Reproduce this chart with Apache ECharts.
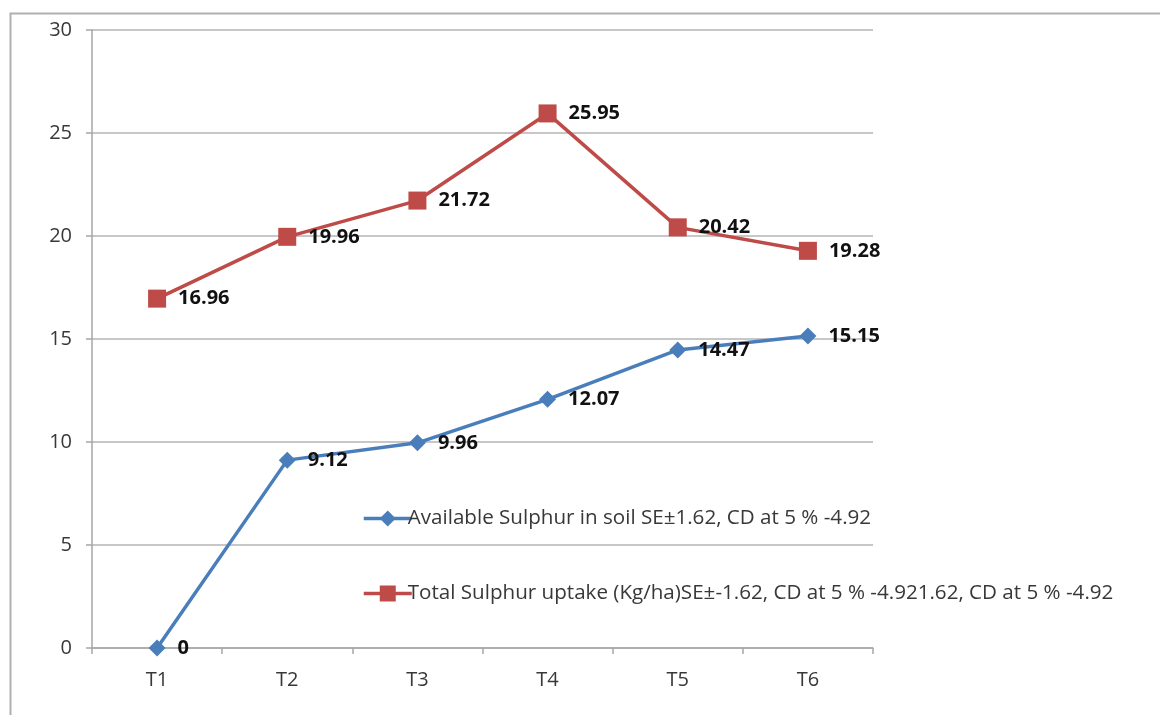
<!DOCTYPE html>
<html>
<head>
<meta charset="utf-8">
<script src="https://cdn.jsdelivr.net/npm/echarts@6/dist/echarts.min.js"></script>
<style>
  html, body { margin: 0; padding: 0; background: #fff; }
  #chart { width: 1160px; height: 715px; }
</style>
</head>
<body>
<div id="chart"></div>
<script>
// Treatments on the category axis
const treatments = ['T1', 'T2', 'T3', 'T4', 'T5', 'T6'];

// Available sulphur in soil
const availableSulphur = [0, 9.12, 9.96, 12.07, 14.47, 15.15];

// Total sulphur uptake (Kg/ha)
const totalUptake = [16.96, 19.96, 21.72, 25.95, 20.42, 19.28];

const seriesNames = [
  'Available Sulphur in soil SE\u00b11.62, CD at 5 % -4.92',
  'Total Sulphur uptake (Kg/ha)SE\u00b1-1.62, CD at 5 % -4.921.62, CD at 5 % -4.92'
];

const FONT = '"Open Sans", "Liberation Sans", sans-serif';

const chart = echarts.init(document.getElementById('chart'), null, { renderer: 'canvas' });

const labelStyle = {
  show: true,
  position: 'right',
  distance: 12,
  color: '#111',
  fontWeight: 'bold',
  fontSize: 20,
  fontFamily: FONT
};

chart.setOption({
  animation: false,
  backgroundColor: '#ffffff',
  graphic: [{
    type: 'rect',
    shape: { x: 10.5, y: 13.5, width: 1200, height: 800 },
    style: { fill: 'none', stroke: '#b0b0b0', lineWidth: 2 },
    silent: true,
    z: 0
  }],
  grid: { left: 92, right: 287, top: 30, bottom: 67, containLabel: false },
  xAxis: {
    type: 'category',
    data: treatments,
    boundaryGap: true,
    axisLine: { show: true, lineStyle: { color: '#a6a6a6', width: 1.5 } },
    axisTick: { show: true, length: 6, inside: false, lineStyle: { color: '#a6a6a6', width: 1.5 } },
    axisLabel: { color: '#383838', fontSize: 20, fontFamily: FONT, margin: 22 },
    splitLine: { show: false }
  },
  yAxis: {
    type: 'value',
    min: 0,
    max: 30,
    interval: 5,
    axisLine: { show: true, lineStyle: { color: '#a6a6a6', width: 1.5 } },
    axisTick: { show: true, length: 6, lineStyle: { color: '#a6a6a6', width: 1.5 } },
    axisLabel: { color: '#383838', fontSize: 20, fontFamily: FONT, margin: 20 },
    splitLine: { show: true, lineStyle: { color: '#b4b4b4', width: 1.5 } }
  },
  legend: {
    orient: 'vertical',
    left: 357,
    top: 503,
    itemWidth: 48,
    itemHeight: 20,
    itemGap: 54,
    lineStyle: { width: 3.5 },
    textStyle: { color: '#383838', fontSize: 20.6, fontFamily: FONT, padding: [0, 0, 0, -9] },
    data: seriesNames
  },
  series: [
    {
      name: seriesNames[0],
      type: 'line',
      data: availableSulphur,
      symbol: 'diamond',
      symbolSize: 17,
      color: '#4a7ebb',
      lineStyle: { color: '#4a7ebb', width: 3.5 },
      itemStyle: { color: '#4a7ebb' },
      label: labelStyle,
      z: 3
    },
    {
      name: seriesNames[1],
      type: 'line',
      data: totalUptake,
      symbol: 'rect',
      symbolSize: 18,
      color: '#be4b48',
      lineStyle: { color: '#be4b48', width: 3.5 },
      itemStyle: { color: '#be4b48' },
      label: labelStyle,
      z: 3
    }
  ]
});
</script>
</body>
</html>
